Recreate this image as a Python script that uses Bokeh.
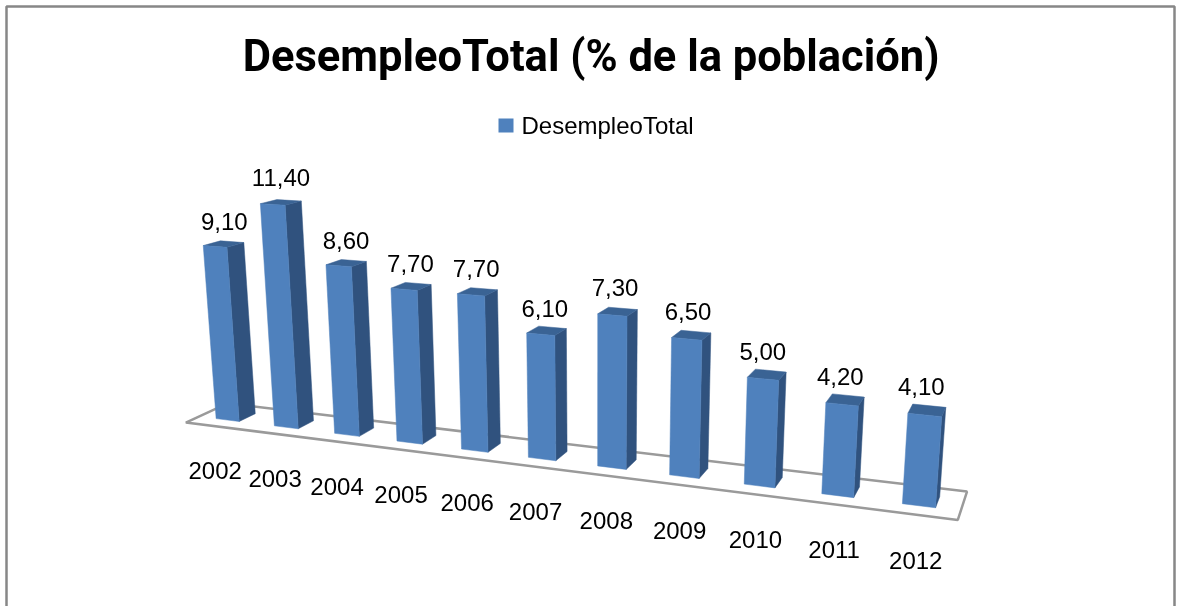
import numpy as np
from bokeh.plotting import figure
from bokeh.models import Range1d
from bokeh.core.properties import value
from bokeh.embed import file_html
from bokeh.resources import INLINE

years = ["2002","2003","2004","2005","2006","2007","2008","2009","2010","2011","2012"]
desempleo = [9.10,11.40,8.60,7.70,7.70,6.10,7.30,6.50,5.00,4.20,4.10]
value_labels = ["9,10","11,40","8,60","7,70","7,70","6,10","7,30","6,50","5,00","4,20","4,10"]
title_text = "DesempleoTotal  (% de la población)"
legend_text = "DesempleoTotal"

# perspective camera: (category, value, depth) -> page pixels
CAMERA = np.array([
    [53.91562697653845, -2.151527819499786, 20.644203045149677, 227.13128851836112],
    [0.2008313412151207, -19.963000624190613, -0.18962365560387492, 419.540325626639],
    [-0.01656310832203411, -0.003606354277571436, 0.018279364183873152, 1.0],
])
BAR_W = 0.40

def proj(x, y, z):
    h = CAMERA @ np.array([x, y, z, 1.0])
    return h[0] / h[2], h[1] / h[2]

def face(points):
    xy = [proj(*q) for q in points]
    return [a for a, _ in xy], [b for _, b in xy]

p = figure(width=1178, height=606, output_backend="svg", toolbar_location=None,
           x_range=Range1d(0, 1178), y_range=Range1d(606, 0),
           x_axis_location=None, y_axis_location=None,
           min_border=0, outline_line_color=None, background_fill_color="white",
           border_fill_color="white", tools="",
           styles={"position": "fixed", "left": "0px", "top": "0px"})
p.grid.visible = False

# chart frame
p.quad(left=[6], right=[1174], top=[6], bottom=[640], fill_color=None,
       line_color="#878787", line_width=2.5)

# floor
fx, fy = face([(-0.5,0,-0.77),(-0.5,0,1.74),(10.5,0,1.74),(10.5,0,-0.77)])
p.patch(fx, fy, fill_color="white", line_color="#9a9a9a", line_width=2.5)

FRONT, SIDE, TOP = "#4F81BD", "#30527E", "#3A6394"
for i, v in enumerate(desempleo):
    a, b = i - BAR_W/2, i + BAR_W/2
    x, y = face([(b,v,0),(b,0,0),(b,0,1),(b,v,1)])
    p.patch(x, y, fill_color=SIDE, line_color=SIDE, line_width=0.5)
    x, y = face([(a,v,0),(b,v,0),(b,v,1),(a,v,1)])
    p.patch(x, y, fill_color=TOP, line_color=TOP, line_width=0.5)
    x, y = face([(a,v,0),(b,v,0),(b,0,0),(a,0,0)])
    p.patch(x, y, fill_color=FRONT, line_color=FRONT, line_width=0.5)

# value labels
vpos = [proj(i-0.11, v+0.65+0.04*v, 1) for i, v in enumerate(desempleo)]
p.text([q[0] for q in vpos], [q[1] for q in vpos], text=value_labels,
       text_font=value("Liberation Sans"), text_font_size="24px", text_color="#000000",
       text_align="center", text_baseline="middle")

# year labels
ypos = [proj(i+1.15-0.095*i, 0, -4.7+0.05*i) for i in range(len(years))]
p.text([q[0] for q in ypos], [q[1] for q in ypos], text=years,
       text_font=value("Liberation Sans"), text_font_size="24px", text_color="#000000",
       text_align="center", text_baseline="middle")

# title
p.text([596], [56], text=[title_text], text_font=value("Roboto"),
       text_font_style="bold", text_font_size="43.5px", text_color="#000000",
       text_align="center", text_baseline="middle")

# legend
p.quad(left=[498], right=[513], top=[118], bottom=[132], fill_color=FRONT, line_color=None)
p.text([521], [125], text=[legend_text], text_font=value("Liberation Sans"),
       text_font_size="24px", text_color="#000000", text_align="left", text_baseline="middle")

open("out.html", "w").write(file_html(p, INLINE))
